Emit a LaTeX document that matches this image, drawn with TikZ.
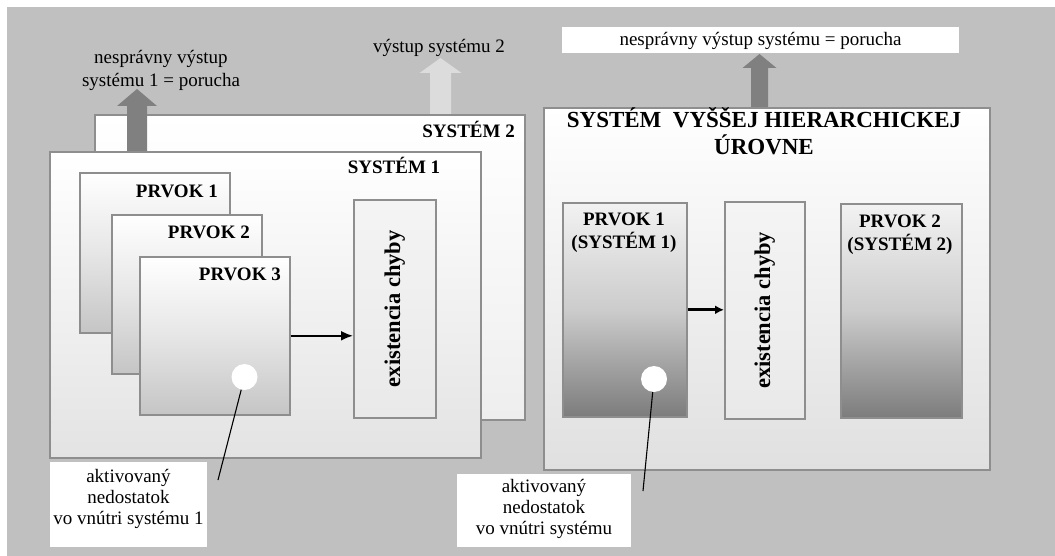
\documentclass[tikz,border=0pt]{standalone}
\usepackage{fontspec}
\setmainfont{Liberation Serif}
\usetikzlibrary{arrows.meta}
\definecolor{bg}{HTML}{C0C0C0}
\definecolor{bord}{HTML}{8E8E8E}
\definecolor{darkarr}{HTML}{808080}
\definecolor{lightarr}{HTML}{DCDCDC}
\definecolor{sonebot}{HTML}{E3E3E3}
\definecolor{stwobot}{HTML}{EEEEEE}
\definecolor{rsbot}{HTML}{E0E0E0}
\definecolor{pbot}{HTML}{C5C5C5}
\definecolor{pmid}{HTML}{E6E6E6}
\definecolor{extop}{HTML}{F4F4F4}
\definecolor{exbot}{HTML}{E9E9E9}
\definecolor{rptop}{HTML}{F2F2F2}
\definecolor{rpmid}{HTML}{CCCCCC}
\definecolor{rpbot}{HTML}{7C7C7C}
\newcommand{\blockarr}[7]{%
  \fill[#7] (#1-#5,#2) -- (#1-#5,#3) -- (#1-#6,#3) -- (#1,#4) -- (#1+#6,#3) -- (#1+#5,#3) -- (#1+#5,#2) -- cycle;}
\begin{document}
\begin{tikzpicture}[x=1pt,y=-1pt,
  box/.style={draw=bord, line width=1.6pt, rectangle, inner sep=0pt, anchor=north west},
  sysbox/.style={box, top color=white},
  pbox/.style={box, top color=white, bottom color=pbot, middle color=pmid},
  exbox/.style={box, top color=extop, bottom color=exbot},
  rpbox/.style={box, top color=rptop, bottom color=rpbot, middle color=rpmid},
  lbl/.style={inner sep=0pt, font=\fontsize{19pt}{21pt}\selectfont, align=center},
  head/.style={inner sep=0pt, font=\fontsize{19pt}{23pt}\selectfont\bfseries, align=center},
  title/.style={inner sep=0pt, font=\fontsize{23pt}{27pt}\selectfont\bfseries},
  extxt/.style={inner sep=0pt, rotate=90, font=\fontsize{22.5pt}{26pt}\selectfont\bfseries},
  labelbox/.style={fill=white, inner sep=0pt, anchor=north west},
  fault/.style={circle, fill=white, minimum size=26pt, inner sep=0pt},
  flow/.style={-{Latex[length=12pt,width=10pt]}, line width=2pt},
  flowthick/.style={-{Latex[length=9pt,width=9pt]}, line width=3.2pt},
  pointer/.style={line width=1.1pt}
]
\useasboundingbox (0,0) rectangle (1055,556);
\fill[bg] (7,7) rectangle (1055,556);

% ---------- left part ----------
\blockarr{440.5}{118}{73}{58}{10.5}{21}{lightarr}
\node[sysbox, bottom color=stwobot, minimum width=430pt, minimum height=305pt] (s2) at (94,114) {};
\blockarr{137}{160}{106}{89}{10}{20}{darkarr}
\node[sysbox, bottom color=sonebot, minimum width=431pt, minimum height=306pt] (s1) at (49,151) {};

\node[pbox, minimum width=150pt, minimum height=160pt] (p1) at (79,172) {};
\node[pbox, minimum width=150pt, minimum height=159pt] (p2) at (111,214) {};
\node[pbox, minimum width=150pt, minimum height=158pt] (p3) at (139,256) {};
\node[exbox, minimum width=82pt, minimum height=218pt] (ex1) at (353,199) {};
\node[extxt] (ex1t) at (ex1.center) {existencia chyby};
\draw[flow] (p3.east) -- (ex1.west |- p3.east);

\node[head, anchor=base east] (s2t) at (515,138) {SYSTÉM 2};
\node[head, anchor=base] (s1t) at (394,174) {SYSTÉM 1};
\node[head, anchor=base east] (p1t) at (218,198) {PRVOK 1};
\node[head, anchor=base east] (p2t) at (250,239) {PRVOK 2};
\node[head, anchor=base east] (p3t) at (281,280) {PRVOK 3};

\node[fault] (c1) at (244.5,377) {};
\coordinate (c1end) at (218,480);
\draw[pointer] (c1) -- (c1end);

\node[labelbox, minimum width=157pt, minimum height=85pt] (lb1) at (50,462) {};
\node[lbl, anchor=north] (lb1t) at (128.5,469) {aktivovaný\\nedostatok\\vo vnútri systému 1};

\node[lbl, font=\fontsize{19pt}{23pt}\selectfont, anchor=north] (o1t) at (161,50) {nesprávny výstup\\systému 1 = porucha};
\node[lbl, anchor=base] (o2t) at (439,53) {výstup systému 2};

% ---------- right part ----------
\node[labelbox, minimum width=397pt, minimum height=26pt] (ob) at (562,27) {};
\node[lbl, anchor=base] (obt) at (760.5,46) {nesprávny výstup systému = porucha};
\blockarr{759.5}{111}{68}{54}{8.5}{17}{darkarr}
\node[sysbox, bottom color=rsbot, minimum width=446pt, minimum height=362pt] (rs) at (543,107) {};
\node[title, anchor=base] (rst1) at (764,128) {SYSTÉM\ \ VYŠŠEJ HIERARCHICKEJ};
\node[title, anchor=base] (rst2) at (764,155) {ÚROVNE};

\node[rpbox, minimum width=124pt, minimum height=214pt] (rp1) at (562,202) {};
\node[exbox, minimum width=80pt, minimum height=217pt] (rex) at (724,201) {};
\node[rpbox, minimum width=121pt, minimum height=214pt] (rp2) at (840,203) {};
\node[extxt] (rext) at (rex.center) {existencia chyby};
\node[head, anchor=north] (rp1t) at (624,212.5) {PRVOK 1\\(SYSTÉM 1)};
\node[head, anchor=north] (rp2t) at (900,214.5) {PRVOK 2\\(SYSTÉM 2)};
\draw[flowthick] (rp1.east) -- (rex.west |- rp1.east);

\node[fault] (c2) at (654,379) {};
\coordinate (c2end) at (643,491);
\draw[pointer] (c2) -- (c2end);

\node[labelbox, minimum width=174pt, minimum height=73pt] (lb2) at (457,474) {};
\node[lbl, anchor=north] (lb2t) at (544,479) {aktivovaný\\nedostatok\\vo vnútri systému};
\end{tikzpicture}
\end{document}
